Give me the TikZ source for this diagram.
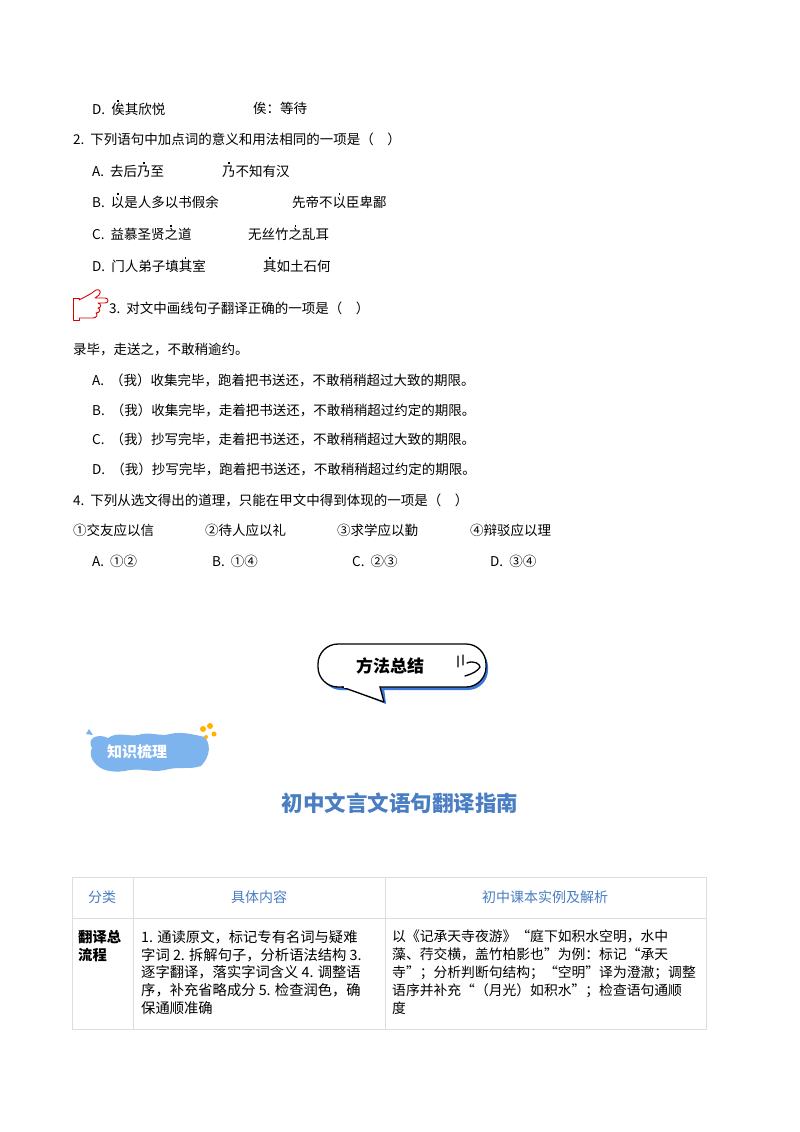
\documentclass[tikz,border=0pt]{standalone}
\usepackage{fontspec}
\setmainfont{Noto Sans CJK SC}
\usetikzlibrary{calc}
\definecolor{tblue}{HTML}{4A7EC3}
\definecolor{tgray}{HTML}{DDDDDD}
\definecolor{cloud}{HTML}{7DB4EE}
\definecolor{shad}{HTML}{3A78E0}
\newcommand\emd[1]{{\setbox0\hbox{#1}\rlap{\hbox to\wd0{\hss\raisebox{0.95em}{\rule{1.8pt}{1.8pt}}\hss}}\box0}}
\begin{document}
\begin{tikzpicture}[x=1pt,y=-1pt,
  t/.style={anchor=west,inner sep=0pt,font=\fontsize{13.5}{16}\selectfont},
  cell/.style={anchor=north west,inner sep=0pt,align=left,font=\fontsize{14.3}{17.8}\selectfont},
  hd/.style={inner sep=0pt,text=tblue,font=\fontsize{14}{16}\selectfont}]
\useasboundingbox[fill=white] (0,0) rectangle (800,1132);
\node[t] (q1d) at (92,108) {D.\ \ \emd{俟}其欣悦};
\node[t] (q1dr) at (253,108) {俟：等待};
\node[t] (q2) at (73,139) {2.\ \ 下列语句中加点词的意义和用法相同的一项是（\quad）};
\node[t] (q2a) at (92,170) {A.\ \ 去后\emd{乃}至};
\node[t] (q2ar) at (222,170) {\emd{乃}不知有汉};
\node[t] (q2b) at (92,201) {B.\ \ \emd{以}是人多以书假余};
\node[t] (q2br) at (292,201) {先帝不\emd{以}臣卑鄙};
\node[t] (q2c) at (92,233) {C.\ \ 益慕圣贤\emd{之}道};
\node[t] (q2cr) at (248,233) {无丝竹\emd{之}乱耳};
\node[t] (q2d) at (92,265) {D.\ \ 门人弟子填\emd{其}室};
\node[t] (q2dr) at (263,265) {\emd{其}如土石何};
% hand
\begin{scope}[red!85!black,line width=0.9pt,line join=round,line cap=round]
\draw[fill=white] (73,298) rectangle (79,320);
\draw[fill=white] (79,300) .. controls (85,297) and (91,294) .. (96,290) .. controls (99,289) and (102,291) .. (99,295)
 -- (95,298) -- (105,298) .. controls (109,298) and (109,303) .. (105,303) -- (98,303)
 .. controls (102,304) and (101,308) .. (98,308) .. controls (101,309) and (100,313) .. (96,313)
 .. controls (98,314) and (97,318) .. (93,318) -- (79,318);
\end{scope}
\node[t] (q3) at (109,308) {3.\ \ 对文中画线句子翻译正确的一项是（\quad）};
\node[t] (q3s) at (73,350) {录毕，走送之，不敢稍逾约。};
\node[t] (q3a) at (92,380) {A.\ \ （我）收集完毕，跑着把书送还，不敢稍稍超过大致的期限。};
\node[t] (q3b) at (92,410) {B.\ \ （我）收集完毕，走着把书送还，不敢稍稍超过约定的期限。};
\node[t] (q3c) at (92,439) {C.\ \ （我）抄写完毕，走着把书送还，不敢稍稍超过大致的期限。};
\node[t] (q3d) at (92,469) {D.\ \ （我）抄写完毕，跑着把书送还，不敢稍稍超过约定的期限。};
\node[t] (q4) at (73,500) {4.\ \ 下列从选文得出的道理，只能在甲文中得到体现的一项是（\quad）};
\node[t] (o1) at (73,530) {①交友应以信};
\node[t] (o2) at (205,530) {②待人应以礼};
\node[t] (o3) at (337,530) {③求学应以勤};
\node[t] (o4) at (470,530) {④辩驳应以理};
\node[t] (aa) at (92,561) {A.\ \ ①②};
\node[t] (ab) at (212,561) {B.\ \ ①④};
\node[t] (ac) at (352,561) {C.\ \ ②③};
\node[t] (ad) at (490,561) {D.\ \ ③④};
% badge
\fill[shad,rounded corners=20] (321,647) rectangle (488,690);
\fill[shad] (345,688) -- (386,704) -- (384,688) -- cycle;
\draw[line width=1.3pt,fill=white,rounded corners=20] (318,644) rectangle (486,687);
\draw[line width=1.3pt,fill=white,line join=round] (342,687) -- (384,702) -- (380,687);
\fill[white] (343.5,685.9) rectangle (379.2,687.9);
\node[inner sep=0pt,font=\fontsize{17}{17}\selectfont\bfseries] (bt) at (390,666) {方法总结};
\draw[line width=1.3pt,line cap=round] (458,656) -- (458,667) (463,655) -- (463,665)
 (467,663) .. controls (474,660) and (480,664) .. (480,667) .. controls (478,671) and (472,674) .. (465,676);
% cloud
\fill[cloud] (92,748) .. controls (86,738) and (98,733) .. (108,738) .. controls (118,731) and (128,737) .. (138,735)
 .. controls (150,731) and (160,737) .. (170,734) .. controls (182,731) and (195,735) .. (205,737)
 .. controls (213,748) and (207,760) .. (201,766)
 .. controls (190,770) and (178,766) .. (165,770) .. controls (150,773) and (140,767) .. (125,771)
 .. controls (110,773) and (100,770) .. (94,762) .. controls (90,757) and (90,752) .. (92,748) -- cycle;
\fill[cloud] (89,729) -- (93,735) -- (86,734) -- cycle;
\fill[orange!60!yellow] (203,729) circle (3) (210,726) circle (3) (214,734) circle (2.5) (206,737) circle (2);
\node[inner sep=0pt,text=white,font=\fontsize{15}{15}\selectfont\bfseries] (kt) at (137,752) {知识梳理};
% title
\node[inner sep=0pt,text=tblue,font=\fontsize{21.5}{21.5}\selectfont\bfseries] (title) at (400,803) {初中文言文语句翻译指南};
% table
\draw[tgray,line width=0.9pt] (72,877) rectangle (706,1029);
\draw[tgray,line width=0.9pt] (72,918) -- (706,918) (133,877) -- (133,1029) (385,877) -- (385,1029);
\node[hd] (h1) at (102,897) {分类};
\node[hd] (h2) at (259,897) {具体内容};
\node[hd] (h3) at (545,897) {初中课本实例及解析};
\node[cell,font=\fontsize{14.3}{17.8}\selectfont\bfseries] (c1) at (78,930) {翻译总\\流程};
\node[cell] (c2) at (141,930) {1. 通读原文，标记专有名词与疑难\\字词 2. 拆解句子，分析语法结构 3.\\逐字翻译，落实字词含义 4. 调整语\\序，补充省略成分 5. 检查润色，确\\保通顺准确};
\node[cell,font=\fontsize{13.8}{17.8}\selectfont] (c3) at (392,930) {以《记承天寺夜游》“庭下如积水空明，水中\\藻、荇交横，盖竹柏影也”为例：标记“承天\\寺”；分析判断句结构；“空明”译为澄澈；调整\\语序并补充“（月光）如积水”；检查语句通顺\\度};
\end{tikzpicture}
\end{document}
